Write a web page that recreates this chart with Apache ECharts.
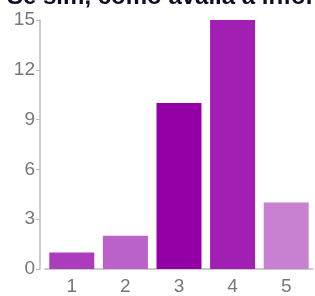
<!DOCTYPE html>
<html>
<head>
<meta charset="utf-8">
<script src="https://cdn.jsdelivr.net/npm/echarts@6/dist/echarts.min.js"></script>
<style>
  html, body { margin: 0; padding: 0; background: #fff; }
  #chart { width: 315px; height: 296px; }
</style>
</head>
<body>
<div id="chart"></div>
<script>
  var titleText = "Se sim, como avalia a informação recebida?";
  var categories = ["1", "2", "3", "4", "5"];
  var values = [1, 2, 10, 15, 4];
  var barColors = ["#ab3cbe", "#ba62c9", "#9300a6", "#a11fb2", "#c880d1"];

  var chart = echarts.init(document.getElementById("chart"));
  var option = {
    animation: false,
    title: {
      text: titleText,
      left: 7,
      top: -15,
      padding: 0,
      textStyle: {
        fontFamily: "Liberation Sans",
        fontSize: 24,
        fontWeight: "bold",
        color: "#0d0d26"
      }
    },
    grid: {
      left: 45,
      right: 2,
      top: 20,
      bottom: 26
    },
    xAxis: {
      type: "category",
      data: categories,
      axisLine: { lineStyle: { color: "#bbb", width: 1.5 } },
      axisTick: { alignWithLabel: true, length: 4, lineStyle: { color: "#bbb" } },
      axisLabel: {
        margin: 8,
        fontFamily: "Liberation Sans",
        fontSize: 19,
        color: "#777"
      }
    },
    yAxis: {
      type: "value",
      min: 0,
      max: 15,
      interval: 3,
      offset: 5,
      splitLine: { show: false },
      axisLine: { show: true, lineStyle: { color: "#bbb", width: 1.5 } },
      axisTick: { show: true, length: 4, lineStyle: { color: "#bbb" } },
      axisLabel: {
        margin: 5,
        fontFamily: "Liberation Sans",
        fontSize: 19,
        color: "#777"
      }
    },
    series: [{
      type: "bar",
      barWidth: 45,
      data: values.map(function (v, i) {
        return { value: v, itemStyle: { color: barColors[i] } };
      })
    }]
  };
  chart.setOption(option);
</script>
</body>
</html>
